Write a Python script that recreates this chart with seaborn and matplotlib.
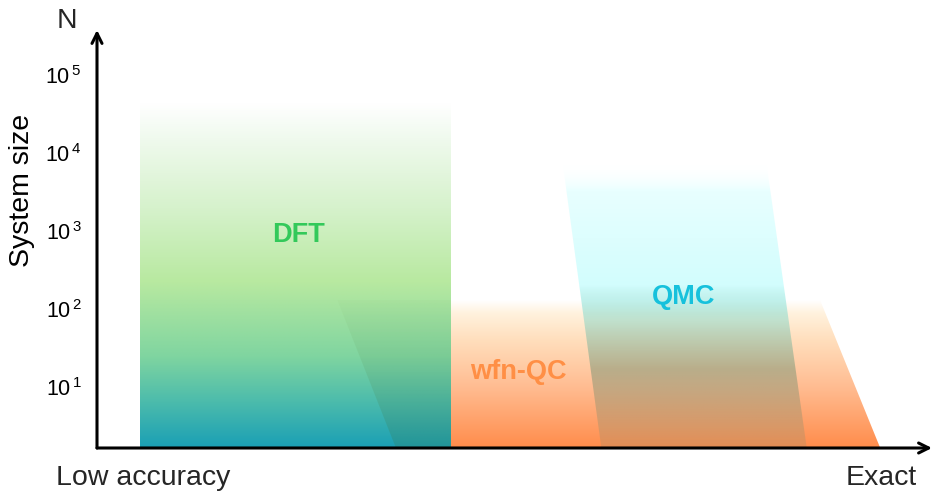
import numpy as np
import matplotlib
matplotlib.use("Agg")
import matplotlib.pyplot as plt
from matplotlib.patches import Polygon
import seaborn as sns

sns.set_theme(style="white")
plt.rcParams['font.family'] = ['Liberation Sans', 'DejaVu Sans']
plt.rcParams['mathtext.fontset'] = 'custom'
plt.rcParams['mathtext.rm'] = 'Liberation Sans'

# accuracy (arbitrary units 0-10) vs log10(system size)
methods = ["wfn-QC", "DFT", "QMC"]
top_left = [2.88, 0.52, 5.58]
top_right = [8.66, 4.24, 8.02]
bottom_left = [3.58, 0.52, 6.04]
bottom_right = [9.38, 4.24, 8.50]
size_top = [2.115, 4.64, 3.85]
label_x = [5.05, 2.41, 7.03]
label_y = [1.19, 2.95, 2.15]

y_ticks = [1, 2, 3, 4, 5]
tick_labels = [r"$\mathregular{10^{\,%d}}$" % t for t in y_ticks]

y_min, y_max = 0.22, 5.58
x_min, x_max = 0.0, 10.0

label_colors = {"wfn-QC": "#ff8f45", "DFT": "#33c95a", "QMC": "#16c1dc"}

# vertical colour stops: (log10 N, r, g, b, alpha)
stops = {
    "wfn-QC": [(0.22, 255, 140, 75, 1), (1.0, 255, 188, 145, 1), (1.6, 255, 222, 188, 1),
               (1.95, 255, 242, 222, 1), (2.115, 255, 255, 255, 1)],
    "DFT": [(0.22, 26, 159, 181, 1), (0.8, 75, 187, 172, 1), (1.4, 128, 213, 160, 1),
            (2.35, 184, 233, 160, 1), (3.3, 214, 242, 204, 1), (4.2, 240, 250, 238, 1),
            (4.64, 255, 255, 255, 1)],
    "QMC": [(0.22, 120, 145, 120, 0.2), (0.7, 120, 140, 110, 0.35), (1.22, 100, 140, 110, 0.45),
            (1.86, 130, 215, 200, 0.5), (2.3, 210, 253, 253, 1), (3.5, 232, 255, 255, 1),
            (3.85, 255, 255, 255, 0)],
}
overlap_stops = [(0.22, 70, 100, 30, 0.18), (2.115, 70, 100, 30, 0.02)]


def gradient_fill(ax, poly, st, x0, x1, y0, y1, zorder):
    ys = np.linspace(y0, y1, 400)
    sy = [s[0] for s in st]
    img = np.zeros((400, 1, 4))
    for k in range(4):
        vals = [s[1 + k] / (255.0 if k < 3 else 1.0) for s in st]
        img[:, 0, k] = np.interp(ys, sy, vals)
    patch = Polygon(poly, closed=True, facecolor='none', edgecolor='none')
    ax.add_patch(patch)
    im = ax.imshow(img, extent=[x0, x1, y0, y1], origin='lower', aspect='auto',
                   interpolation='bilinear', zorder=zorder)
    im.set_clip_path(patch)


fig = plt.figure(figsize=(9.32, 4.93), dpi=100)
ax = fig.add_axes([97 / 932, 45 / 493, 835 / 932, 418 / 493])

polys = {}
for i, m in enumerate(methods):
    poly = [(bottom_left[i], y_min), (bottom_right[i], y_min),
            (top_right[i], size_top[i]), (top_left[i], size_top[i])]
    polys[m] = poly
    xs = [p[0] for p in poly]
    gradient_fill(ax, poly, stops[m], min(xs), max(xs), y_min, size_top[i], zorder=1 + i)
    if m == "DFT":
        # darker band where DFT sits over wfn-QC
        w = methods.index("wfn-QC")
        gradient_fill(ax, polys["wfn-QC"], overlap_stops, top_left[w], top_right[i],
                      y_min, size_top[w], zorder=1 + i + 0.5)

for i, m in enumerate(methods):
    ax.text(label_x[i], label_y[i], m, color=label_colors[m], fontsize=19.5,
            fontweight='bold', ha='center', va='center', zorder=10)

ax.set_xlim(x_min, x_max)
ax.set_ylim(y_min, y_max)
ax.set_yticks(y_ticks, tick_labels)
ax.set_xticks([])
ax.tick_params(axis='y', length=0, pad=11, labelsize=15.5, labelcolor='black')
sns.despine(ax=ax, left=True, bottom=True)

arrow = dict(arrowstyle='->', lw=2.2, color='black', mutation_scale=18, shrinkA=0, shrinkB=0)
ax.annotate("", xy=(0, 1), xytext=(0, 0), xycoords='axes fraction', arrowprops=arrow, zorder=20)
ax.annotate("", xy=(1.0, 0), xytext=(0, 0), xycoords='axes fraction', arrowprops=arrow, zorder=20)

ax.set_ylabel("System size", fontsize=20.5, color='black')
ax.yaxis.set_label_coords(-0.074, 0.617)

fig.text(67 / 932, 1 - 21 / 493, "N", fontsize=20.5, ha='center', va='center')
fig.text(143 / 932, 1 - 478 / 493, "Low accuracy", fontsize=20.5, ha='center', va='center')
fig.text(881 / 932, 1 - 478 / 493, "Exact", fontsize=20.5, ha='center', va='center')

fig.savefig("out.png", dpi=100)
